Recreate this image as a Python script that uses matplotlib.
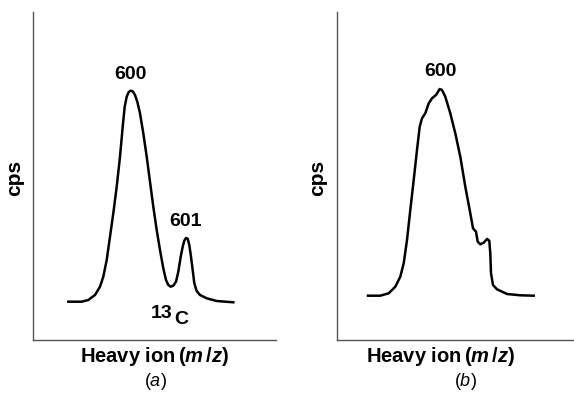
import matplotlib
matplotlib.use("Agg")
import matplotlib.pyplot as plt

plt.rcParams['font.family'] = ['Liberation Sans', 'DejaVu Sans']
plt.rcParams['mathtext.fontset'] = 'custom'
plt.rcParams['mathtext.rm'] = 'Liberation Sans:bold'
plt.rcParams['mathtext.it'] = 'Liberation Sans:italic:bold'
plt.rcParams['mathtext.bf'] = 'Liberation Sans:bold'
plt.rcParams['mathtext.sf'] = 'Liberation Sans'
plt.rcParams['mathtext.cal'] = 'Liberation Sans:italic'

# panel (a): main peak 600 with 13C isotope peak 601
mz_a = [35.3, 48.7, 55.3, 62, 67, 70.3, 73.7, 77, 80.3, 83.7, 87, 89.7, 91.7,
        93.7, 95.7, 97.7, 99.7, 102, 104.3, 107, 110.3, 113.7, 117, 120.3,
        123.7, 127, 130.3, 133, 135.3, 137.7, 140.3, 143, 145.3, 147.7, 149.7,
        151.3, 153, 154.7, 156.3, 158, 159.7, 161.3, 163.7, 167, 173.7, 183.7,
        200.3]
cps_a = [38.3, 38.3, 40, 45, 53.3, 63.3, 80, 103.3, 126.7, 153.3, 183.3, 213.3,
         233.3, 243.3, 248, 249.3, 248.7, 245, 238.3, 226.7, 206.7, 183.3,
         158.3, 133.3, 110, 90, 71.7, 60, 55, 53.3, 54.3, 58.3, 68.3, 83.3,
         93.3, 99.3, 102, 101.3, 95, 83.3, 70, 56.7, 49, 45, 41.7, 39, 37.7]

# panel (b): broadened peak 600
mz_b = [31, 43.3, 51.7, 58.3, 63.3, 66.7, 70, 73.3, 76.7, 80, 82.7, 85, 88.3,
        91.7, 95, 99, 102.7, 105, 108.3, 113.3, 118.3, 123.3, 128.3, 133.3,
        136, 139, 140.7, 143.3, 146.7, 150, 152.3, 153.3, 154, 156, 160, 170,
        183.3, 196.7]
cps_b = [44.3, 44.3, 46.7, 53.3, 63.3, 76.7, 100, 130, 160, 190, 213.3, 221.7,
         226.7, 236.7, 241.7, 245, 251, 250, 243.3, 226.7, 206.7, 183.3, 153.3,
         126.7, 111.7, 108.3, 98.3, 95.7, 97.3, 101, 99.3, 86.7, 66.7, 55,
         50.7, 46, 44.7, 44.3]

fig = plt.figure(figsize=(5.74, 3.97), dpi=100)
ax1 = fig.add_axes([33 / 574, 57 / 397, 243 / 574, 328 / 397])
ax2 = fig.add_axes([337 / 574, 57 / 397, 237 / 574, 328 / 397])

for ax, x, y, xmax in [(ax1, mz_a, cps_a, 243), (ax2, mz_b, cps_b, 237)]:
    ax.plot(x, y, color='black', lw=1.8, solid_joinstyle='round')
    ax.set_xlim(0, xmax)
    ax.set_ylim(0, 328)
    ax.set_xticks([])
    ax.set_yticks([])
    for s in ['top', 'right']:
        ax.spines[s].set_visible(False)
    for s in ['left', 'bottom']:
        ax.spines[s].set_color('#555555')
        ax.spines[s].set_linewidth(1.0)

kw = dict(fontsize=14, fontweight='bold', ha='center')
ax1.text(97, 257, '600', va='bottom', **kw)
ax1.text(152, 110, '601', va='bottom', **kw)
ax1.text(129, 27, '13', va='center', **kw)
ax1.text(148, 21, 'C', va='center', **kw)
ax2.text(103, 260, '600', va='bottom', **kw)

for xc in [155, 441]:
    fig.text(xc / 574, 1 - 357 / 397, r'Heavy ion$\,(m\,/z)$', fontsize=14.5,
             fontweight='bold', ha='center', va='center')
fig.text(155 / 574, 1 - 382 / 397, r'$\mathsf{(}\mathcal{a}\mathsf{)}$',
         fontsize=13, ha='center', va='center')
fig.text(465 / 574, 1 - 382 / 397, r'$\mathsf{(}\mathcal{b}\mathsf{)}$',
         fontsize=13, ha='center', va='center')

for xc in [15, 318]:
    fig.text(xc / 574, 1 - 178 / 397, 'cps', fontsize=15, fontweight='bold',
             rotation=90, ha='center', va='center')

fig.savefig('out.png', dpi=100)
